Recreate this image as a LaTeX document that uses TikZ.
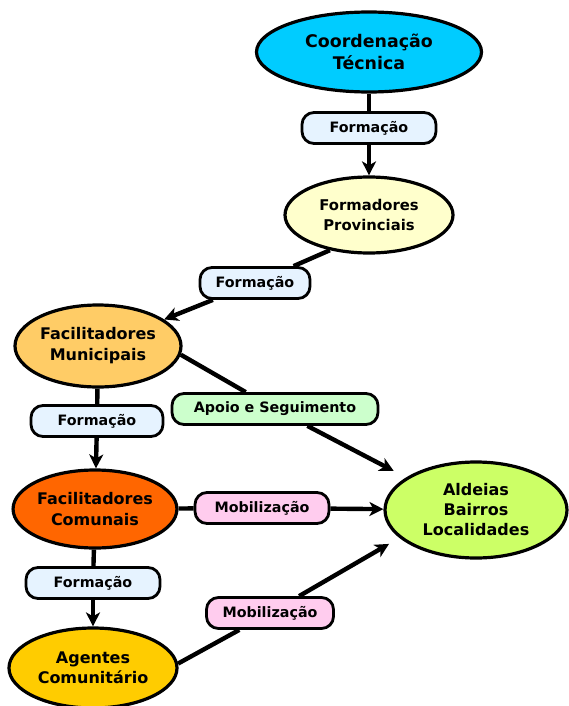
\documentclass[tikz,border=0pt]{standalone}
\usepackage{fontspec}
\setmainfont{DejaVu Sans}
\usetikzlibrary{shapes.geometric,arrows.meta}
\definecolor{ccyan}{HTML}{00CCFF}
\definecolor{lblue}{HTML}{E6F3FF}
\definecolor{cyellow}{HTML}{FFFFCC}
\definecolor{corange}{HTML}{FFCC66}
\definecolor{cred}{HTML}{FF6600}
\definecolor{cgold}{HTML}{FFCC00}
\definecolor{clime}{HTML}{CCFF66}
\definecolor{cgreen}{HTML}{CCFFCC}
\definecolor{cpink}{HTML}{FFCCEE}
\begin{document}
\begin{tikzpicture}[x=1pt,y=-1pt,
  ell/.style={ellipse,draw=black,line width=3.2pt,inner sep=0pt,align=center,
    font=\bfseries\fontsize{16}{21}\selectfont},
  lbl/.style={rectangle,rounded corners=12pt,draw=black,line width=2.8pt,fill=lblue,
    minimum height=31pt,inner sep=0pt,font=\bfseries\fontsize{14.3}{16}\selectfont},
  conn/.style={line width=4.4pt},
  arr/.style={conn,-{Stealth[length=14pt,width=14pt,inset=4pt]}}
]
\useasboundingbox (0,0) rectangle (569,706);
% nodes
\node[ell,fill=ccyan,minimum width=225pt,minimum height=80pt,
  font=\bfseries\fontsize{17.4}{22}\selectfont] (coord) at (369,52) {Coordenação\\Técnica};
\node[lbl,minimum width=134pt] (f1) at (369,128) {Formação};
\node[ell,fill=cyellow,minimum width=168pt,minimum height=76pt,
  font=\bfseries\fontsize{14.8}{20}\selectfont] (prov) at (369,215) {Formadores\\Provinciais};
\node[lbl,minimum width=110pt] (f2) at (255,283) {Formação};
\node[ell,fill=corange,minimum width=166pt,minimum height=82pt] (mun) at (98,346) {Facilitadores\\Municipais};
\node[lbl,minimum width=132pt] (f3) at (97,421) {Formação};
\node[lbl,fill=cgreen,minimum width=206pt] (apoio) at (275,409) {Apoio e Seguimento};
\node[ell,fill=cred,minimum width=152pt,minimum height=78pt] (com) at (95,509) {Facilitadores\\Comunais};
\node[lbl,fill=cpink,minimum width=134pt] (m1) at (262,508) {Mobilização};
\node[ell,fill=clime,minimum width=182pt,minimum height=96pt,
  font=\bfseries\fontsize{16}{20}\selectfont] (ald) at (476,510) {Aldeias\\Bairros\\Localidades};
\node[lbl,minimum width=134pt] (f4) at (93,583) {Formação};
\node[lbl,fill=cpink,minimum width=127pt] (m2) at (270,613) {Mobilização};
\node[ell,fill=cgold,minimum width=168pt,minimum height=80pt,
  font=\bfseries\fontsize{16}{20}\selectfont] (ag) at (93,668) {Agentes\\Comunitário};
% connectors
\draw[conn] (coord) -- (f1);
\draw[arr] (f1) -- (prov);
\draw[conn] (prov.222) -- (f2);
\draw[arr] (f2) -- (mun);
\draw[conn] (mun.354) -- (apoio);
\draw[arr,shorten >=14pt] (apoio) -- (ald.155);
\draw[conn] (mun) -- (f3);
\draw[arr] (f3) -- (com);
\draw[conn] (com) -- (m1);
\draw[arr] (m1) -- (ald);
\draw[conn] (com) -- (f4);
\draw[arr] (f4) -- (ag);
\draw[conn] (ag.3) -- (m2);
\draw[arr,shorten >=12pt] (m2) -- (ald.200);
\end{tikzpicture}
\end{document}
